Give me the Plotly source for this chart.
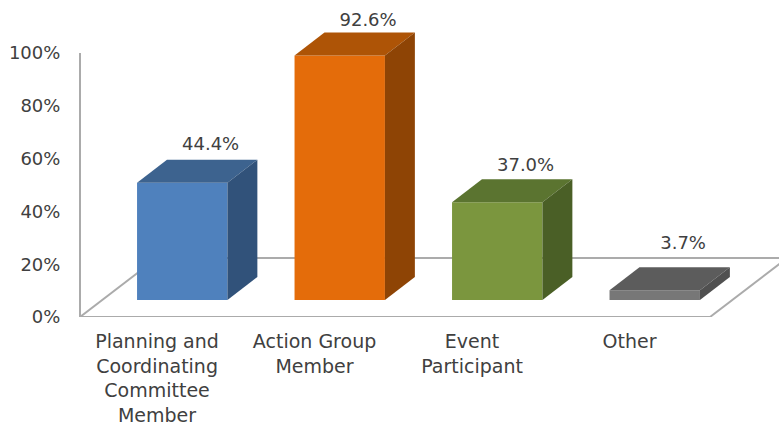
import plotly.graph_objects as go

# Data
categories = ["Planning and<br>Coordinating<br>Committee<br>Member", "Action Group<br>Member", "Event<br>Participant", "Other"]
values = [44.4, 92.6, 37.0, 3.7]
value_labels = ["44.4%", "92.6%", "37.0%", "3.7%"]
y_ticks = [0, 20, 40, 60, 80, 100]

# Style
front_colors = ["#4F81BD", "#E46C0A", "#7B963E", "#777777"]
top_colors = ["#3D638F", "#AE5406", "#5B7430", "#5C5C5C"]
side_colors = ["#31527A", "#8E4405", "#4A5F26", "#505050"]
label_lift = [14.2, 12.8, 13.6, 17.2]
FONT = "DejaVu Sans"
TEXT = "#404040"
WALL = "#ABABAB"

# Pseudo-3D geometry in axis units
idx = list(range(len(values)))
bar_w = 0.574
base = 6.44
dx, dy = 0.19, 8.71
wall_x, floor_right = -0.6492, 3.351
floor_dx, floor_dy = 0.489, 22.35

fig = go.Figure()
fig.add_trace(go.Bar(x=idx, y=values, base=base, width=bar_w,
                     marker=dict(color=front_colors, line=dict(width=0)), hoverinfo="skip"))

for i, v in zip(idx, values):
    l, r = i - bar_w / 2, i + bar_w / 2
    t = base + v
    fig.add_trace(go.Scatter(x=[l, r, r + dx, l + dx, l], y=[t, t, t + dy, t + dy, t],
                             fill="toself", fillcolor=top_colors[i], mode="none", hoverinfo="skip"))
    fig.add_trace(go.Scatter(x=[r, r + dx, r + dx, r, r], y=[base, base + dy, t + dy, t, base],
                             fill="toself", fillcolor=side_colors[i], mode="none", hoverinfo="skip"))

fig.add_trace(go.Scatter(x=[i + 0.18 for i in idx],
                         y=[base + v + lift for v, lift in zip(values, label_lift)],
                         mode="text", text=value_labels, textposition="middle center",
                         textfont=dict(family=FONT, size=18, color=TEXT), hoverinfo="skip", cliponaxis=False))

line = dict(color=WALL, width=2)
for x0, y0, x1, y1 in [
    (wall_x, 0, wall_x, 100),
    (wall_x, 0, floor_right, 0),
    (wall_x, 0, wall_x + floor_dx, floor_dy),
    (wall_x + floor_dx, floor_dy, floor_right + floor_dx, floor_dy),
    (floor_right, 0, floor_right + floor_dx, floor_dy),
]:
    fig.add_shape(type="line", x0=x0, y0=y0, x1=x1, y1=y1, line=line, layer="below")

fig.update_layout(
    width=779, height=426, showlegend=False, barmode="overlay",
    paper_bgcolor="white", plot_bgcolor="white",
    margin=dict(l=70, r=0, t=5, b=109),
    font=dict(family=FONT, size=18, color=TEXT),
    xaxis=dict(range=[-0.7127, 3.789], tickmode="array",
               tickvals=[i - 0.16 for i in idx], ticktext=categories,
               tickfont=dict(family=FONT, size=19, color=TEXT),
               ticks="outside", ticklen=7, tickcolor="rgba(0,0,0,0)",
               showgrid=False, zeroline=False, showline=False, fixedrange=True),
    yaxis=dict(range=[0, 118.2], tickmode="array", tickvals=y_ticks,
               ticktext=[f"{t}%" for t in y_ticks],
               ticks="outside", ticklen=5, tickcolor="rgba(0,0,0,0)",
               showgrid=False, zeroline=False, showline=False, fixedrange=True),
)
fig.write_html("out.html", config=dict(displayModeBar=False),
               post_script="document.body.style.margin='0';")
